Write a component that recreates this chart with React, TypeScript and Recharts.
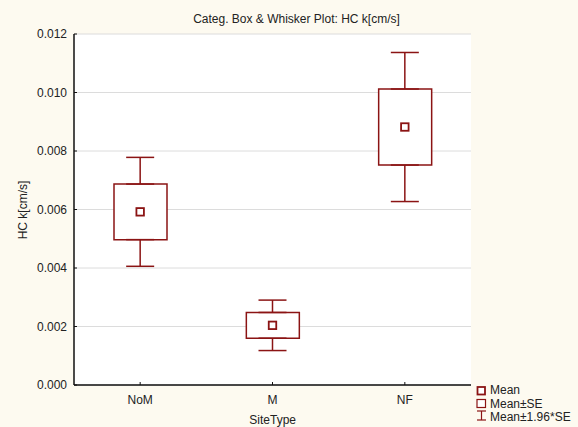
import React from 'react';
import { ComposedChart, Bar, Scatter, ErrorBar, XAxis, YAxis, CartesianGrid } from 'recharts';

// Site categories and the per-site mean / standard error of hydraulic conductivity
const siteTypes = ['NoM', 'M', 'NF'];
const meanValues = [0.00592, 0.00204, 0.00882];
const stdErrors = [0.00095, 0.00044, 0.0013];
const yTicks = [0, 0.002, 0.004, 0.006, 0.008, 0.01, 0.012];
const CI_FACTOR = 1.96;

const W = 578;
const H = 427;
const DARK_RED = '#8b1414';
const FONT = '"Liberation Sans", Arial, sans-serif';

// Box spans mean ± SE; whiskers extend from the box edges to mean ± 1.96·SE
const data = siteTypes.map((site, i) => {
  const m = meanValues[i];
  const se = stdErrors[i];
  const ext = (CI_FACTOR - 1) * se;
  return {
    site,
    mean: m,
    box: [m - se, m + se],
    boxTop: m + se,
    boxBottom: m - se,
    upperWhisker: [0, ext],
    lowerWhisker: [ext, 0],
  };
});

const Hidden = () => <g />;

const MeanMarker = (props: any) => {
  const { cx, cy } = props;
  if (cx == null || cy == null) return <g />;
  return (
    <rect x={cx - 3.75} y={cy - 3.75} width={7.5} height={7.5} fill="#ffffff" stroke={DARK_RED} strokeWidth={1.8} />
  );
};

export default function App() {
  return (
    <div
      style={{
        position: 'absolute',
        left: 0,
        top: 0,
        width: W,
        height: H,
        background: '#fdfaf0',
        fontFamily: FONT,
      }}
    >
      <ComposedChart
        width={W}
        height={H}
        data={data}
        margin={{ top: 34, right: 107, bottom: 22, left: 0 }}
      >
        <CartesianGrid vertical={false} stroke="#dcdcdc" fill="#ffffff" />
        <XAxis
          dataKey="site"
          type="category"
          height={20}
          interval={0}
          tickSize={-3}
          tickMargin={13}
          axisLine={{ stroke: '#111111', strokeWidth: 1.5 }}
          tickLine={{ stroke: '#111111' }}
          tick={{ fill: '#222222', fontSize: 12, fontFamily: FONT }}
        />
        <XAxis
          xAxisId="top"
          dataKey="site"
          type="category"
          orientation="top"
          height={0}
          interval={0}
          tickSize={-3}
          tick={false}
          axisLine={{ stroke: '#555555', strokeWidth: 1.5 }}
          tickLine={{ stroke: '#111111' }}
        />
        <YAxis
          domain={[0, 0.012]}
          ticks={yTicks}
          width={74}
          tickSize={-3}
          tickMargin={10}
          interval={0}
          tickFormatter={(v: number) => v.toFixed(3)}
          axisLine={{ stroke: '#111111', strokeWidth: 1.5 }}
          tickLine={{ stroke: '#111111' }}
          tick={{ fill: '#222222', fontSize: 12, fontFamily: FONT }}
        />
        <YAxis
          yAxisId="r"
          orientation="right"
          domain={[0, 0.012]}
          ticks={yTicks}
          width={0}
          tickSize={-3}
          interval={0}
          tick={false}
          axisLine={{ stroke: '#555555', strokeWidth: 1.5 }}
          tickLine={{ stroke: '#111111' }}
        />
        <Bar
          dataKey="box"
          barSize={53}
          fill="#ffffff"
          stroke={DARK_RED}
          strokeWidth={1.5}
          isAnimationActive={false}
        />
        <Scatter dataKey="boxTop" shape={Hidden} isAnimationActive={false}>
          <ErrorBar
            dataKey="upperWhisker"
            direction="y"
            width={14}
            stroke={DARK_RED}
            strokeWidth={1.5}
            isAnimationActive={false}
          />
        </Scatter>
        <Scatter dataKey="boxBottom" shape={Hidden} isAnimationActive={false}>
          <ErrorBar
            dataKey="lowerWhisker"
            direction="y"
            width={14}
            stroke={DARK_RED}
            strokeWidth={1.5}
            isAnimationActive={false}
          />
        </Scatter>
        <Scatter dataKey="mean" shape={MeanMarker} isAnimationActive={false} />
      </ComposedChart>

      <svg
        width={W}
        height={H}
        style={{ position: 'absolute', left: 0, top: 0, pointerEvents: 'none' }}
        fontFamily={FONT}
        fontSize={12}
        fill="#222222"
      >
        <text x={296.5} y={19} textAnchor="middle" dominantBaseline="central">
          Categ. Box &amp; Whisker Plot: HC k[cm/s]
        </text>
        <text
          x={23}
          y={210}
          textAnchor="middle"
          dominantBaseline="central"
          transform="rotate(-90 23 210)"
        >
          HC k[cm/s]
        </text>
        <text x={272.7} y={420} textAnchor="middle" dominantBaseline="central">
          SiteType
        </text>

        {/* legend */}
        <rect x={477.5} y={387} width={7.5} height={7.5} fill="#ffffff" stroke={DARK_RED} strokeWidth={1.8} />
        <text x={490} y={390} dominantBaseline="central">Mean</text>
        <rect x={477} y={399.5} width={8.5} height={8} fill="#ffffff" stroke={DARK_RED} strokeWidth={1.2} />
        <text x={490} y={403.5} dominantBaseline="central">Mean±SE</text>
        <g stroke={DARK_RED} strokeWidth={1.2}>
          <line x1={481.5} y1={411} x2={481.5} y2={420} />
          <line x1={477} y1={411} x2={486} y2={411} />
          <line x1={477} y1={420} x2={486} y2={420} />
        </g>
        <text x={490} y={417} dominantBaseline="central">Mean±1.96*SE</text>
      </svg>
    </div>
  );
}
